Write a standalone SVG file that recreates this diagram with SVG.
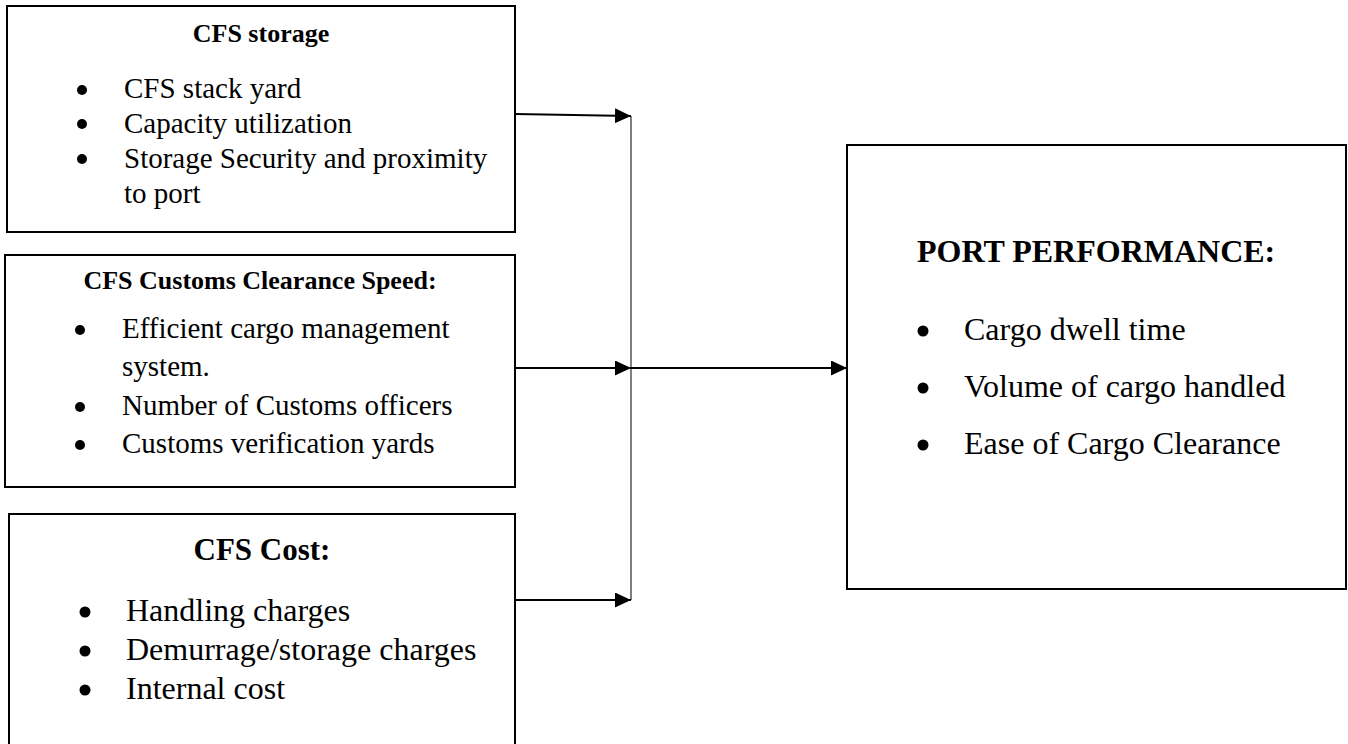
<svg xmlns="http://www.w3.org/2000/svg" width="1348" height="744" viewBox="0 0 1348 744">
<style>
.box{fill:#fff;stroke:#000;stroke-width:2}
.t{font-family:"Liberation Serif","Times New Roman",serif;fill:#000}
.h{font-weight:bold;text-anchor:middle}
.s29{font-size:29px}
.s32{font-size:32px}
.dot{fill:#000}
.ln{stroke:#000;stroke-width:2;fill:none}
.bus{stroke:#555;stroke-width:1.5;fill:none}
</style>
<defs>
<marker id="ah" markerWidth="16" markerHeight="15" refX="16" refY="7.5" orient="auto" markerUnits="userSpaceOnUse">
<path d="M0,0 L16,7.5 L0,15 Z" fill="#000"/>
</marker>
</defs>
<rect width="1348" height="744" fill="#fff"/>
<g id="cfs-storage">
<rect class="box" x="7" y="6" width="508" height="226"/>
<text class="t h" x="261" y="42" font-size="26">CFS storage</text>
<circle class="dot" cx="82" cy="90" r="5"/>
<circle class="dot" cx="82" cy="124" r="5"/>
<circle class="dot" cx="82" cy="159" r="5"/>
<text class="t s29" x="124" y="98">CFS stack yard</text>
<text class="t s29" x="124" y="133">Capacity utilization</text>
<text class="t s29" x="124" y="168">Storage Security and proximity</text>
<text class="t s29" x="124" y="203">to port</text>
</g>
<g id="cfs-customs">
<rect class="box" x="5" y="255" width="510" height="232"/>
<text class="t h" x="260" y="289" font-size="26">CFS Customs Clearance Speed:</text>
<circle class="dot" cx="80" cy="330" r="5"/>
<circle class="dot" cx="80" cy="407" r="5"/>
<circle class="dot" cx="80" cy="445" r="5"/>
<text class="t s29" x="122" y="338">Efficient cargo management</text>
<text class="t s29" x="122" y="376">system.</text>
<text class="t s29" x="122" y="415">Number of Customs officers</text>
<text class="t s29" x="122" y="453">Customs verification yards</text>
</g>
<g id="cfs-cost">
<rect class="box" x="9" y="514" width="506" height="250"/>
<text class="t h" x="262" y="560" font-size="31">CFS Cost:</text>
<circle class="dot" cx="85" cy="612" r="5.5"/>
<circle class="dot" cx="85" cy="651" r="5.5"/>
<circle class="dot" cx="85" cy="690" r="5.5"/>
<text class="t s32" x="126" y="621">Handling charges</text>
<text class="t s32" x="126" y="660">Demurrage/storage charges</text>
<text class="t s32" x="126" y="699">Internal cost</text>
</g>
<g id="port-performance">
<rect class="box" x="847" y="145" width="499" height="444"/>
<text class="t s32" x="917" y="262" font-weight="bold">PORT PERFORMANCE:</text>
<circle class="dot" cx="923" cy="331" r="5.5"/>
<circle class="dot" cx="923" cy="388" r="5.5"/>
<circle class="dot" cx="923" cy="445" r="5.5"/>
<text class="t s32" x="964" y="340">Cargo dwell time</text>
<text class="t s32" x="964" y="397">Volume of cargo handled</text>
<text class="t s32" x="964" y="454">Ease of Cargo Clearance</text>
</g>
<g id="connectors">
<line class="bus" x1="631" y1="116" x2="631" y2="600"/>
<line class="ln" x1="515" y1="114" x2="631" y2="116" marker-end="url(#ah)"/>
<line class="ln" x1="515" y1="368" x2="631" y2="368" marker-end="url(#ah)"/>
<line class="ln" x1="515" y1="600" x2="631" y2="600" marker-end="url(#ah)"/>
<line class="ln" x1="631" y1="368" x2="847" y2="368" marker-end="url(#ah)"/>
</g>
</svg>
